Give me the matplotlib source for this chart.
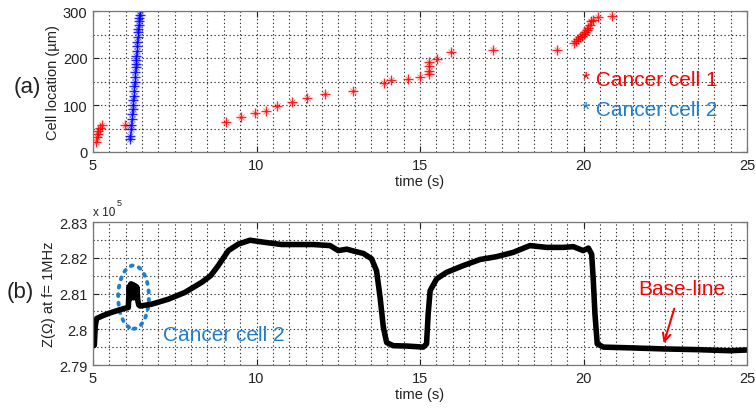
import matplotlib
matplotlib.use("Agg")
import matplotlib.pyplot as plt
from matplotlib.patches import Ellipse
from matplotlib.ticker import MultipleLocator, FixedLocator, FixedFormatter

plt.rcParams['font.family'] = ['Liberation Sans', 'DejaVu Sans']

# ---- panel (a): tracked cell positions ----
cell1_t = [5.08, 5.11, 5.14, 5.16, 5.21, 5.28, 5.98,
           9.07, 9.52, 9.95, 10.28, 10.63, 11.10, 11.53, 12.09, 12.95,
           13.91, 14.11, 14.62, 15.00, 15.28, 15.28, 15.28, 15.28,
           15.51, 15.95, 17.24, 19.20,
           19.71, 19.78, 19.84, 19.90, 19.94, 20.00, 20.05, 20.10, 20.15,
           20.20, 20.23, 20.30, 20.43, 20.86]
cell1_loc = [21, 31, 38, 45, 51, 58, 57,
             64, 74, 82, 88, 98, 107, 114, 124, 129,
             147, 154, 156, 159, 165, 173, 182, 191,
             198, 213, 218, 218,
             231, 236, 240, 244, 247, 251, 255, 259, 264,
             270, 279, 281, 287, 289]

cell2_t = [6.13, 6.14, 6.15, 6.17, 6.18, 6.19, 6.21, 6.22, 6.23, 6.24,
           6.25, 6.26, 6.27, 6.28, 6.29, 6.30, 6.31, 6.32, 6.33, 6.34,
           6.35, 6.36, 6.37, 6.38, 6.39, 6.40, 6.41, 6.42, 6.43, 6.44]
cell2_loc = [28, 35, 48, 58, 70, 80, 92, 100, 110, 120,
             130, 140, 150, 160, 170, 180, 188, 195, 205, 215,
             225, 235, 245, 255, 262, 270, 278, 285, 292, 300]

# ---- panel (b): impedance magnitude at 1 MHz (x 10^5 ohm) ----
imp_t = [5.00, 5.04, 5.07, 5.11, 5.30, 5.50, 5.77, 5.95, 6.08, 6.11,
         6.13, 6.16, 6.19, 6.22, 6.25, 6.28, 6.31, 6.34, 6.37, 6.40,
         6.44, 6.79, 7.30, 7.81, 8.32, 8.60, 8.83, 9.14, 9.44, 9.80,
         10.26, 10.77, 11.25, 11.74, 12.25, 12.50, 12.76, 13.00, 13.27, 13.52,
         13.67, 13.72, 13.78, 13.88, 13.98, 14.18, 14.60, 15.10, 15.20, 15.25,
         15.31, 15.51, 15.81, 16.32, 16.83, 17.34, 17.85, 18.36, 18.87, 19.38,
         19.69, 19.99, 20.15, 20.25, 20.30, 20.35, 20.42, 20.61, 21.42, 22.44,
         23.46, 24.48, 25.00]
imp_z = [2.7953, 2.7955, 2.8010, 2.8030, 2.8038, 2.8045, 2.8053, 2.8058, 2.8061, 2.8120,
         2.8085, 2.8127, 2.8090, 2.8125, 2.8088, 2.8122, 2.8090, 2.8118, 2.8080, 2.8068,
         2.8065, 2.8070, 2.8084, 2.8103, 2.8131, 2.8150, 2.8178, 2.8220, 2.8238, 2.8249,
         2.8243, 2.8237, 2.8237, 2.8237, 2.8234, 2.8220, 2.8224, 2.8218, 2.8212, 2.8197,
         2.8164, 2.8130, 2.8089, 2.8005, 2.7963, 2.7954, 2.7953, 2.7950, 2.7959, 2.8043,
         2.8108, 2.8141, 2.8159, 2.8178, 2.8195, 2.8203, 2.8215, 2.8234, 2.8229, 2.8229,
         2.8231, 2.8220, 2.8227, 2.8210, 2.8136, 2.8043, 2.7959, 2.7950, 2.7948, 2.7945,
         2.7943, 2.7940, 2.7942]

x_ticks = [5, 10, 15, 20, 25]
a_yticks = [0, 100, 200, 300]
b_yticks = [2.79, 2.80, 2.81, 2.82, 2.83]
b_ylabels = ['2.79', '2.8', '2.81', '2.82', '2.83']

RED = '#ff0000'
BLUE = '#0000ff'
TXT_BLUE = '#1f7fcf'
W, H = 756, 410

fig = plt.figure(figsize=(W / 100, H / 100), dpi=100)


def px_axes(left, top, right, bottom):
    return fig.add_axes([left / W, 1 - bottom / H, (right - left) / W, (bottom - top) / H])


def style(ax, ylo, yhi, ymin_step):
    ax.set_xlim(5, 25)
    ax.set_ylim(ylo, yhi)
    ax.xaxis.set_major_locator(FixedLocator(x_ticks))
    ax.xaxis.set_minor_locator(MultipleLocator(0.5))
    ax.yaxis.set_minor_locator(MultipleLocator(ymin_step))
    ax.grid(True, which='both', linestyle=(0, (1.2, 2.2)), color='#333333', linewidth=0.8)
    ax.set_axisbelow(True)
    ax.tick_params(which='major', direction='in', length=4, top=True, right=True,
                   labelsize=10.5, colors='#222222', pad=4)
    ax.tick_params(which='minor', length=0)
    for s in ax.spines.values():
        s.set_color('#777777')
        s.set_linewidth(0.9)
    ax.set_xlabel('time (s)', fontsize=10.5, color='#222222', labelpad=2)


def asterisks(ax, t, y, color):
    # MATLAB-style '*' marker: a plus with a lighter diagonal cross
    ax.plot(t, y, linestyle='none', marker='+', markersize=7, markeredgewidth=1.0,
            color=color, alpha=0.85)
    ax.plot(t, y, linestyle='none', marker='x', markersize=5, markeredgewidth=0.7,
            color=color, alpha=0.5)


# panel (a)
ax1 = px_axes(93, 12, 747, 153)
asterisks(ax1, cell1_t, cell1_loc, RED)
asterisks(ax1, cell2_t, cell2_loc, BLUE)
style(ax1, 0, 300, 50)
ax1.yaxis.set_major_locator(FixedLocator(a_yticks))
ax1.set_ylabel('Cell location (µm)', fontsize=10.5, color='#222222', labelpad=2)
ax1.text(0.747, 0.515, '* Cancer cell 1', transform=ax1.transAxes, color=RED,
         fontsize=15, va='center', ha='left')
ax1.text(0.747, 0.303, '* Cancer cell 2', transform=ax1.transAxes, color=TXT_BLUE,
         fontsize=15, va='center', ha='left')

# panel (b)
ax2 = px_axes(93, 223, 747, 366)
ax2.plot(imp_t, imp_z, color='black', linewidth=4.0, solid_joinstyle='round',
         solid_capstyle='round')
style(ax2, 2.79, 2.83, 0.005)
ax2.yaxis.set_major_locator(FixedLocator(b_yticks))
ax2.yaxis.set_major_formatter(FixedFormatter(b_ylabels))
ax2.set_ylabel('Z(Ω) at f= 1MHz', fontsize=10.5, color='#222222', labelpad=2)
ax2.add_patch(Ellipse((6.24, 2.809), 0.94, 0.0177, fill=False, edgecolor=TXT_BLUE,
                      linewidth=2.8, linestyle=(0, (0.5, 1.7)), capstyle='round'))
ax2.text(7.14, 2.7984, 'Cancer cell 2', color=TXT_BLUE, fontsize=15, va='center', ha='left')
ax2.text(21.67, 2.8115, 'Base-line', color=RED, fontsize=15, va='center', ha='left')
ax2.annotate('', xy=(22.43, 2.7953), xytext=(22.8, 2.8065),
             arrowprops=dict(arrowstyle='->', color=RED, lw=1.5, mutation_scale=14))

# multiplier and panel tags
fig.text(93 / W, 1 - 213 / H, 'x 10', fontsize=8.5, color='#222222', va='center', ha='left')
fig.text(117 / W, 1 - 204 / H, '5', fontsize=6.5, color='#222222', va='center', ha='left')
fig.text(27 / W, 1 - 88 / H, '(a)', fontsize=16, color='#222222', va='center', ha='center')
fig.text(20 / W, 1 - 293 / H, '(b)', fontsize=16, color='#222222', va='center', ha='center')

fig.savefig('out.png', dpi=100)
